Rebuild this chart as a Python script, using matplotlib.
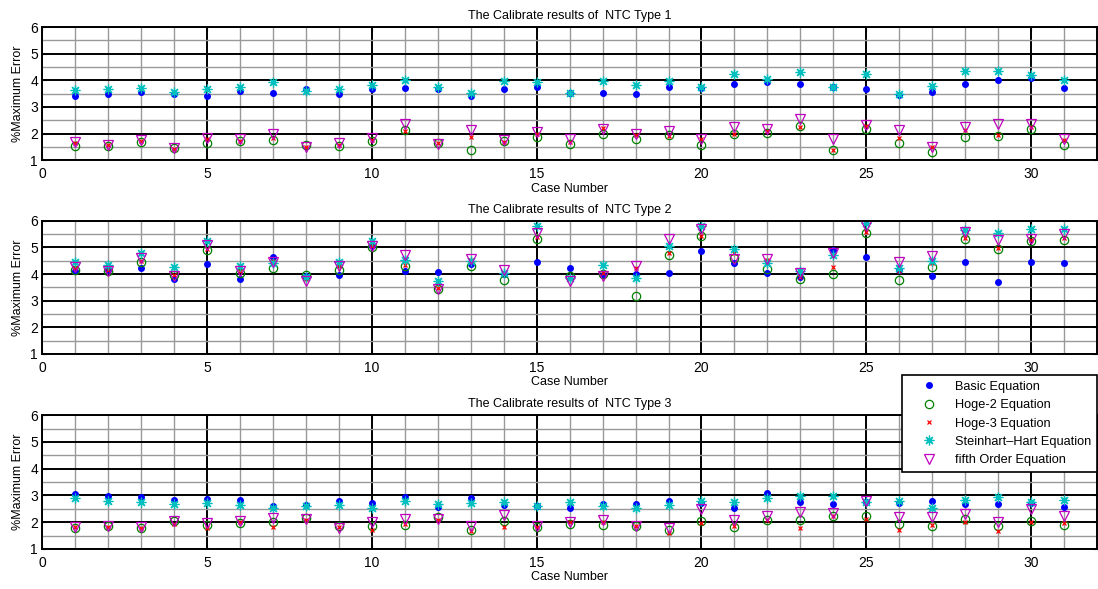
import numpy as np
import matplotlib
matplotlib.use('Agg')
import matplotlib.pyplot as plt
from matplotlib.ticker import MultipleLocator

plt.rcParams['font.family'] = ['Liberation Sans', 'DejaVu Sans']

cases = list(range(1, 32))

# NTC Type 1
basic_1 = [3.42, 3.47, 3.58, 3.49, 3.42, 3.61, 3.53, 3.69, 3.49, 3.66,
           3.72, 3.69, 3.43, 3.66, 3.76, 3.53, 3.53, 3.47, 3.76, 3.70,
           3.88, 3.92, 3.88, 3.76, 3.66, 3.44, 3.57, 3.88, 4.03, 4.07, 3.72]
hoge2_1 = [1.54, 1.54, 1.70, 1.45, 1.66, 1.71, 1.75, 1.56, 1.54, 1.73,
           2.13, 1.65, 1.38, 1.71, 1.88, 1.60, 2.00, 1.79, 1.94, 1.56,
           1.98, 2.03, 2.27, 1.38, 2.19, 1.63, 1.29, 1.88, 1.90, 2.19, 1.56]
hoge3_1 = [1.65, 1.56, 1.71, 1.43, 1.79, 1.71, 1.85, 1.50, 1.59, 1.76,
           2.10, 1.65, 1.89, 1.69, 1.98, 1.69, 2.20, 1.94, 1.90, 1.78,
           2.00, 2.10, 2.25, 1.40, 2.28, 1.84, 1.50, 2.13, 1.93, 2.25, 1.75]
stein_1 = [3.63, 3.66, 3.73, 3.58, 3.66, 3.76, 3.93, 3.59, 3.69, 3.84,
           4.03, 3.76, 3.51, 3.98, 3.92, 3.53, 3.97, 3.82, 3.97, 3.76,
           4.22, 4.05, 4.32, 3.76, 4.22, 3.48, 3.78, 4.35, 4.35, 4.20, 4.01]
fifth_1 = [1.68, 1.59, 1.75, 1.45, 1.85, 1.78, 2.00, 1.50, 1.63, 1.84,
           2.35, 1.60, 2.13, 1.75, 2.07, 1.81, 2.18, 2.00, 2.10, 1.81,
           2.23, 2.19, 2.53, 1.81, 2.32, 2.15, 1.50, 2.25, 2.35, 2.35, 1.81]

# NTC Type 2
basic_2 = [4.13, 4.16, 4.23, 3.81, 4.39, 3.83, 4.64, 3.94, 3.98, 5.04,
           4.13, 4.08, 4.39, 4.01, 4.46, 4.23, 3.98, 4.01, 4.04, 4.88,
           4.41, 4.04, 3.89, 4.91, 4.64, 4.14, 3.94, 4.45, 3.70, 4.45, 4.41]
hoge2_2 = [4.16, 4.10, 4.45, 3.98, 4.91, 4.04, 4.23, 3.98, 4.16, 5.00,
           4.29, 3.44, 4.29, 3.79, 5.33, 3.94, 4.01, 3.16, 4.73, 5.45,
           4.60, 4.19, 3.83, 4.01, 5.54, 3.79, 4.25, 5.33, 4.94, 5.26, 5.29]
hoge3_2 = [4.23, 4.16, 4.51, 3.98, 4.94, 4.10, 4.48, 3.81, 4.29, 5.04,
           4.35, 3.46, 4.54, 4.06, 5.41, 3.85, 4.04, 4.23, 4.81, 5.45,
           4.79, 4.54, 3.89, 4.26, 5.60, 4.10, 4.41, 5.35, 4.98, 5.29, 5.35]
stein_2 = [4.44, 4.35, 4.81, 4.25, 5.26, 4.29, 4.41, 3.91, 4.44, 5.23,
           4.54, 3.76, 4.48, 4.04, 5.81, 3.85, 4.35, 3.85, 5.04, 5.79,
           4.95, 4.41, 4.10, 4.73, 5.91, 4.23, 4.50, 5.66, 5.56, 5.70, 5.70]
fifth_2 = [4.25, 4.13, 4.60, 3.94, 5.10, 4.13, 4.44, 3.73, 4.29, 5.06,
           4.73, 3.44, 4.58, 4.16, 5.54, 3.73, 3.94, 4.29, 5.31, 5.70,
           4.58, 4.56, 4.06, 4.81, 5.79, 4.44, 4.69, 5.60, 5.29, 5.33, 5.50]

# NTC Type 3
basic_3 = [3.05, 2.99, 2.94, 2.84, 2.86, 2.84, 2.59, 2.63, 2.80, 2.71,
           2.94, 2.56, 2.90, 2.63, 2.59, 2.53, 2.69, 2.69, 2.80, 2.71,
           2.53, 3.08, 2.75, 2.67, 2.77, 2.71, 2.81, 2.69, 2.69, 2.71, 2.56]
hoge2_3 = [1.78, 1.84, 1.78, 2.03, 1.88, 1.97, 1.99, 2.15, 1.84, 1.84,
           1.88, 2.18, 1.72, 2.03, 1.81, 1.93, 1.91, 1.84, 1.72, 2.05,
           1.81, 2.09, 2.09, 2.24, 2.22, 1.93, 1.84, 2.13, 1.84, 2.03, 1.91]
hoge3_3 = [1.81, 1.81, 1.78, 1.93, 1.78, 1.99, 1.81, 2.09, 1.81, 1.72,
           1.93, 2.09, 1.68, 1.81, 1.81, 1.99, 1.99, 1.84, 1.60, 1.97,
           1.84, 2.09, 1.78, 2.24, 2.12, 1.72, 1.91, 1.99, 1.66, 1.99, 1.97]
stein_3 = [2.90, 2.81, 2.77, 2.69, 2.71, 2.65, 2.55, 2.59, 2.65, 2.55,
           2.81, 2.67, 2.71, 2.77, 2.59, 2.74, 2.59, 2.55, 2.63, 2.80,
           2.75, 2.90, 2.99, 2.99, 2.77, 2.81, 2.53, 2.84, 2.96, 2.74, 2.84]
fifth_3 = [1.81, 1.84, 1.81, 2.05, 1.97, 2.03, 2.15, 2.12, 1.78, 1.99,
           2.12, 2.12, 1.84, 2.28, 1.84, 1.99, 2.09, 1.87, 1.78, 2.50,
           2.09, 2.24, 2.40, 2.34, 2.80, 2.18, 2.18, 2.30, 1.99, 2.50, 2.24]

titles = ['The Calibrate results of  NTC Type 1',
          'The Calibrate results of  NTC Type 2',
          'The Calibrate results of  NTC Type 3']
labels = ['Basic Equation', 'Hoge-2 Equation', 'Hoge-3 Equation',
          'Steinhart\u2013Hart Equation', 'fifth Order Equation']

panels = [
    [basic_1, hoge2_1, hoge3_1, stein_1, fifth_1],
    [basic_2, hoge2_2, hoge3_2, stein_2, fifth_2],
    [basic_3, hoge2_3, hoge3_3, stein_3, fifth_3],
]

blue = (0, 0, 1)
green = (0, 0.5, 0)
red = (1, 0, 0)
cyan = (0, 0.75, 0.75)
magenta = (0.75, 0, 0.75)

fig = plt.figure(figsize=(10.98, 5.89), dpi=100)
boxes = [(0.0383, 0.728, 0.9609, 0.226),
         (0.0383, 0.399, 0.9609, 0.226),
         (0.0383, 0.068, 0.9609, 0.227)]

for box, title, data in zip(boxes, titles, panels):
    ax = fig.add_axes(box)
    b, h2, h3, sh, f5 = data
    ax.plot(cases, b, '.', color=blue, markersize=8, label=labels[0])
    ax.plot(cases, h2, 'o', mfc='none', mec=green, markersize=6, mew=0.9, label=labels[1])
    ax.plot(cases, h3, 'x', color=red, markersize=3.5, mew=0.9, label=labels[2])
    ax.plot(cases, sh, linestyle='none', marker=(8, 2, 0), color=cyan,
            markersize=7, mew=0.9, label=labels[3])
    ax.plot(cases, f5, 'v', mfc='none', mec=magenta, markersize=7, mew=0.9, label=labels[4])

    ax.set_xlim(0, 32)
    ax.set_ylim(1, 6)
    ax.xaxis.set_major_locator(MultipleLocator(5))
    ax.xaxis.set_minor_locator(MultipleLocator(1))
    ax.yaxis.set_major_locator(MultipleLocator(1))
    ax.yaxis.set_minor_locator(MultipleLocator(0.5))
    ax.grid(True, which='major', color='black', linewidth=1.4, linestyle='-')
    ax.grid(True, which='minor', color='0.6', linewidth=1.0, linestyle='-')
    ax.set_axisbelow(True)
    ax.tick_params(which='both', direction='in', top=True, right=True,
                   labelsize=10, length=3, width=0.8)
    ax.tick_params(axis='x', pad=5)
    ax.tick_params(axis='y', pad=3)
    ax.tick_params(which='minor', length=0)
    for sp in ax.spines.values():
        sp.set_linewidth(1.4)
    ax.set_title(title, fontsize=9, pad=6)
    ax.set_xlabel('Case Number', fontsize=9, labelpad=1)
    ax.set_ylabel('%Maximum Error', fontsize=9, labelpad=4)

leg = ax.legend(loc='upper right', bbox_to_anchor=(1097 / 1098, 1 - 375 / 589),
                bbox_transform=fig.transFigure, fontsize=9.2, frameon=True,
                fancybox=False, framealpha=1, edgecolor='black',
                borderpad=0.45, labelspacing=0.5, handletextpad=0.3,
                handlelength=3.4, borderaxespad=0)
leg.get_frame().set_linewidth(1.2)

fig.savefig('out.png', dpi=100)
